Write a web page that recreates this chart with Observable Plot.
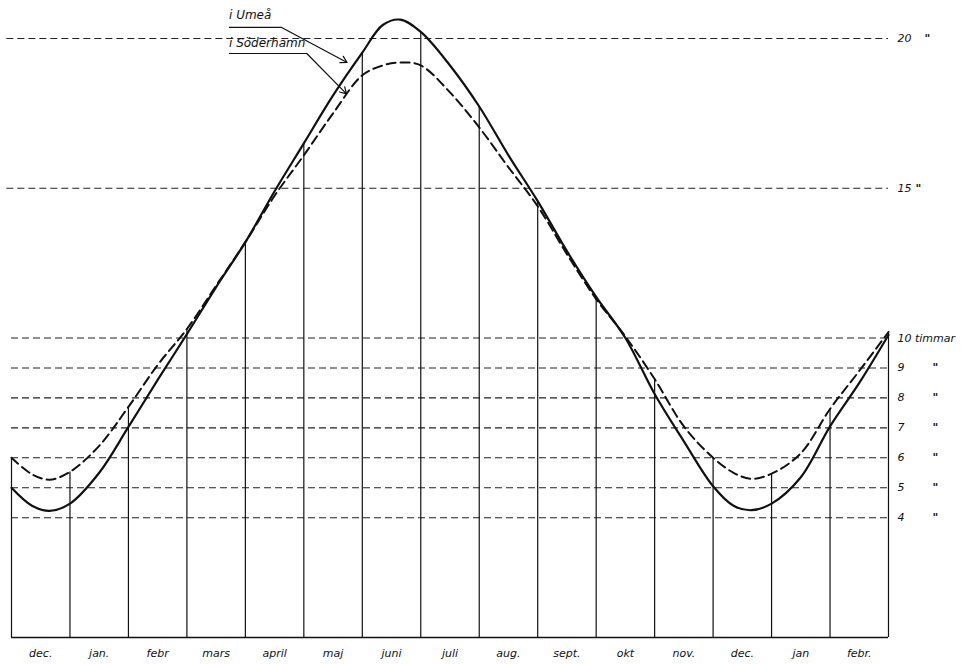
<!DOCTYPE html>
<html>
<head>
<meta charset="utf-8">
<script src="https://cdn.jsdelivr.net/npm/d3@7"></script>
<script src="https://cdn.jsdelivr.net/npm/@observablehq/plot@0.6"></script>
<style>
  html, body { margin: 0; padding: 0; background: #fff; }
  #chart svg { display: block; }
</style>
</head>
<body>
<div id="chart"></div>
<script>
// Month labels (Dec .. Feb of the following year + one), x in month units 0..15
const months = ["dec.", "jan.", "febr", "mars", "april", "maj", "juni", "juli", "aug.", "sept.", "okt", "nov.", "dec.", "jan", "febr."];

// Sample positions (month index) and day length in hours
const tUmea = [0, 0.35, 0.65, 1, 1.5, 2, 2.5, 3, 3.5, 4, 4.5, 5, 5.5, 6, 6.35, 6.65, 7, 7.5, 8, 8.5, 9, 9.5, 10, 10.5, 11, 11.5, 12, 12.35, 12.65, 13, 13.5, 14, 14.5, 15];
const umea  = [5.0, 4.4, 4.23, 4.47, 5.5, 7.03, 8.6, 10.13, 11.7, 13.2, 14.9, 16.5, 18.1, 19.53, 20.45, 20.63, 20.22, 19.1, 17.73, 16.1, 14.57, 12.9, 11.37, 10.0, 8.13, 6.55, 5.05, 4.4, 4.25, 4.47, 5.35, 7.05, 8.5, 10.1];

const tSoder = tUmea;
const soder = [6.0, 5.45, 5.27, 5.53, 6.4, 7.7, 9.1, 10.3, 11.75, 13.2, 14.75, 16.1, 17.5, 18.77, 19.1, 19.2, 19.1, 18.2, 17.03, 15.7, 14.4, 12.8, 11.3, 10.05, 8.63, 7.05, 6.0, 5.5, 5.3, 5.47, 6.15, 7.63, 8.9, 10.2];

// Horizontal reference levels (hours) and right-hand labels
const gridLevels = [4, 5, 6, 7, 8, 9, 10, 15, 20];
const levelLabels = ["4", "5", "6", "7", "8", "9", "10 timmar", "15", "20"];
const dittoLow = [4, 5, 6, 7, 8, 9];
const ditto15 = [15];
const ditto20 = [20];

// Annotation labels
const seriesNames = ["i Umeå", "i Söderhamn"];

// ---- build tables ----
const umeaData = tUmea.map((t, i) => ({t, v: umea[i]}));
const soderData = tSoder.map((t, i) => ({t, v: soder[i]}));
const bounds = d3.range(0, 16).map(m => {
  const iu = tUmea.indexOf(m), is = tSoder.indexOf(m);
  return {t: m, top: Math.max(umea[iu], soder[is])};
});
const monthData = months.map((m, i) => ({t: i + 0.5, label: m}));
const grid = gridLevels.map((v, i) => ({v, label: levelLabels[i], x1: v >= 15 ? -0.08 : 0}));

// annotation anchors (month units, hours)
const notes = [
  {name: seriesNames[0], tx: 3.72, ty: 20.78, ux: 4.62, uy: 20.37, ax: 5.74, ay: 19.2},
  {name: seriesNames[1], tx: 3.72, ty: 19.85, ux: 5.05, uy: 19.5, ax: 5.73, ay: 18.15}
];

const font = "'DejaVu Sans', 'Liberation Sans', sans-serif";
const dittoStyle = {x: 15, y: d => d, text: () => "\"", textAnchor: "start", fontSize: 11, fontWeight: "bold", fill: "#111"};

const chart = Plot.plot({
  width: 966,
  height: 664,
  marginLeft: 11,
  marginRight: 78,
  marginTop: 38,
  marginBottom: 27,
  x: {domain: [0, 15], axis: null},
  y: {domain: [0, 20], axis: null},
  style: {background: "#fff", fontFamily: font},
  marks: [
    // dashed horizontal guides
    Plot.ruleY(grid, {y: "v", x1: "x1", x2: 15, stroke: "#222", strokeWidth: 1.1, strokeDasharray: "7,4"}),
    // month boundary verticals up to the upper curve
    Plot.ruleX(bounds, {x: "t", y1: 0, y2: "top", stroke: "#111", strokeWidth: 1.2}),
    // baseline
    Plot.ruleY([0], {x1: 0, x2: 15, stroke: "#111", strokeWidth: 1.6}),
    // curves
    Plot.line(soderData, {x: "t", y: "v", curve: "catmull-rom", stroke: "#111", strokeWidth: 2, strokeDasharray: "9,5"}),
    Plot.line(umeaData, {x: "t", y: "v", curve: "catmull-rom", stroke: "#111", strokeWidth: 2.2}),
    // month labels
    Plot.text(monthData, {x: "t", y: 0, text: "label", dy: 16, fontSize: 11, fontStyle: "italic", fill: "#111"}),
    // right labels
    Plot.text(grid, {x: 15, y: "v", text: "label", dx: 9, textAnchor: "start", fontSize: 11, fontStyle: "italic", fontWeight: d => d.v >= 15 ? "bold" : "normal", fill: "#111"}),
    Plot.text(dittoLow, {...dittoStyle, dx: 44}),
    Plot.text(ditto15, {...dittoStyle, dx: 27}),
    Plot.text(ditto20, {...dittoStyle, dx: 36}),
    // annotations
    Plot.text(notes, {x: "tx", y: "ty", text: "name", textAnchor: "start", fontSize: 12, fontStyle: "italic", fill: "#111"}),
    Plot.link(notes, {x1: "tx", y1: "uy", x2: "ux", y2: "uy", stroke: "#111", strokeWidth: 1.2}),
    Plot.arrow(notes, {x1: "ux", y1: "uy", x2: "ax", y2: "ay", stroke: "#111", strokeWidth: 1.2, headLength: 9, bend: false})
  ]
});

document.getElementById("chart").append(chart);
</script>
</body>
</html>
